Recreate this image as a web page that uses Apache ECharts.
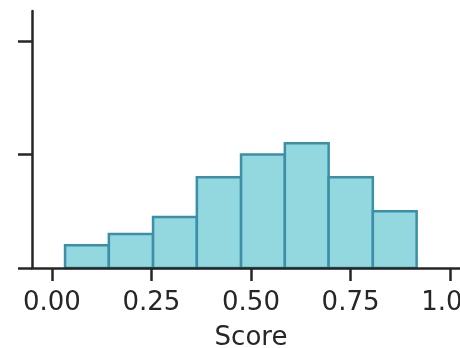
<!DOCTYPE html>
<html>
<head>
<meta charset="utf-8">
<script src="https://cdn.jsdelivr.net/npm/echarts@6/dist/echarts.min.js"></script>
<style>html,body{margin:0;padding:0;background:#fff;}#c{width:460px;height:348px;}</style>
</head>
<body>
<div id="c"></div>
<script>
// Histogram of scores
var binEdges = [0.033, 0.143, 0.254, 0.364, 0.475, 0.585, 0.695, 0.806, 0.916];
var counts = [4, 6, 9, 16, 20, 22, 16, 10];
var xTicks = [0.00, 0.25, 0.50, 0.75, 1.00];
var yTicks = [0, 20, 40];
var xLabel = 'Score';

var data = counts.map(function (c, i) { return [binEdges[i], binEdges[i + 1], c]; });
var ink = '#262626';
var chart = echarts.init(document.getElementById('c'), null, {renderer: 'canvas'});
chart.setOption({
  animation: false,
  grid: {left: 32, right: -10, top: 11, bottom: 80, containLabel: false, outerBoundsMode: 'none'},
  xAxis: {
    type: 'value', min: -0.05, max: 1.05,
    z: 10,
    name: xLabel, nameLocation: 'middle', nameGap: 57,
    nameTextStyle: {fontFamily: 'DejaVu Sans', fontSize: 26, color: ink},
    axisLine: {show: true, onZero: false, lineStyle: {color: ink, width: 2.5}},
    axisTick: {show: true, length: 13, customValues: xTicks, lineStyle: {color: ink, width: 2.5}},
    axisLabel: {
      fontFamily: 'DejaVu Sans', fontSize: 26, color: ink, margin: 22,
      customValues: xTicks,
      formatter: function (v) { return v.toFixed(2); }
    },
    splitLine: {show: false}
  },
  yAxis: {
    type: 'value', min: 0, max: 45.3,
    z: 10,
    axisLine: {show: true, onZero: false, lineStyle: {color: ink, width: 2.5}},
    axisTick: {show: true, length: 14, customValues: yTicks, lineStyle: {color: ink, width: 2.5}},
    axisLabel: {show: false, customValues: yTicks},
    splitLine: {show: false}
  },
  series: [{
    type: 'custom',
    z: 2,
    data: data,
    renderItem: function (params, api) {
      var p0 = api.coord([api.value(0), api.value(2)]);
      var p1 = api.coord([api.value(1), 0]);
      return {
        type: 'rect',
        shape: {x: p0[0], y: p0[1], width: p1[0] - p0[0], height: p1[1] - p0[1]},
        style: {fill: '#93d8df', stroke: '#3b8fa6', lineWidth: 2.5}
      };
    },
    encode: {x: [0, 1], y: 2}
  }]
});
</script>
</body>
</html>
